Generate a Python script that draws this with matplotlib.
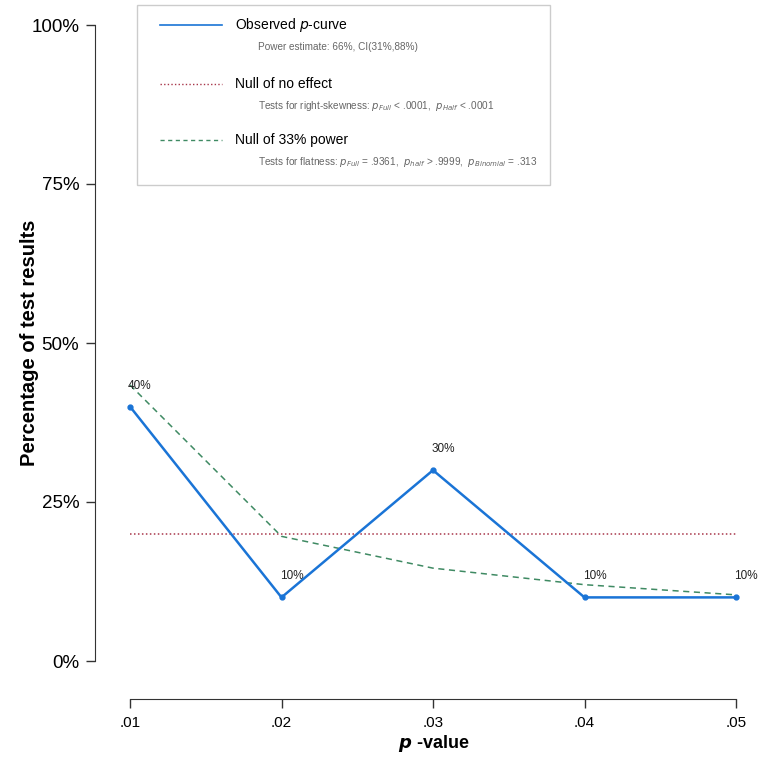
import matplotlib
matplotlib.use('Agg')
import matplotlib.pyplot as plt
from matplotlib.lines import Line2D
from matplotlib.patches import Rectangle

plt.rcParams['font.family'] = ['Liberation Sans', 'DejaVu Sans']

# data
p_values = [0.01, 0.02, 0.03, 0.04, 0.05]
x_labels = ['.01', '.02', '.03', '.04', '.05']
observed = [40, 10, 30, 10, 10]
null_effect = [20, 20, 20, 20, 20]
null_33 = [43.4, 19.6, 14.6, 12.0, 10.4]
y_ticks = [0, 25, 50, 75, 100]
y_labels = ['0%', '25%', '50%', '75%', '100%']

W, H = 765, 761
fig = plt.figure(figsize=(W / 100, H / 100), dpi=100)


def px(x, y):
    # pixel position -> figure fraction
    return x / W, 1 - y / H


l, b = px(130, 661)
r, t = px(736, 25)
ax = fig.add_axes([l, b, r - l, t - b])
ax.set_xlim(0.01, 0.05)
ax.set_ylim(0, 100)

blue = '#1a74d6'
red = '#a8364a'
green = '#3f8a63'

ax.plot(p_values, null_effect, color=red, lw=1.1, ls=(0, (1, 1.6)), clip_on=False)
ax.plot(p_values, null_33, color=green, lw=1.1, ls=(0, (4, 3)), clip_on=False)
ax.plot(p_values, observed, color=blue, lw=1.8, marker='o', ms=3.5, clip_on=False, zorder=5)

for xv, yv in zip(p_values, observed):
    ax.annotate('%d%%' % yv, (xv, yv), xytext=(10, 15), textcoords='offset pixels',
                ha='center', va='bottom', fontsize=8.5, color='#222222')

for s in ['top', 'right']:
    ax.spines[s].set_visible(False)
ax.spines['left'].set_position(('outward', 25))
ax.spines['bottom'].set_position(('outward', 27))
ax.spines['left'].set_color('#333333')
ax.spines['bottom'].set_color('#333333')
ax.set_xticks(p_values)
ax.set_xticklabels(x_labels)
ax.set_yticks(y_ticks)
ax.set_yticklabels(y_labels)
ax.tick_params(axis='both', length=6.5, width=1, color='#333333', labelsize=13.5, pad=5)
ax.tick_params(axis='x', labelsize=11, pad=6)

fig.text(*px(30, 343), 'Percentage of test results', rotation=90, ha='center', va='center',
         fontsize=14.5, fontweight='bold')
fig.text(*px(434, 743), r'$\boldsymbol{p}$ -value', ha='center', va='center',
         fontsize=13, fontweight='bold')

# legend box
lx0, ly0 = px(137, 185)
lx1, ly1 = px(550, 5)
fig.patches.append(Rectangle((lx0, ly0), lx1 - lx0, ly1 - ly0, transform=fig.transFigure,
                             fill=False, edgecolor='#cccccc', lw=1))

entries = [
    (25, blue, '-', 1.2, 'Observed $\\it{p}$-curve',
     'Power estimate: 66%, CI(31%,88%)'),
    (84, red, (0, (1, 1.6)), 1.0, 'Null of no effect',
     'Tests for right-skewness: $\\it{p}_{Full}$ < .0001,  $\\it{p}_{Half}$ < .0001'),
    (140, green, (0, (3, 2.5)), 1.0, 'Null of 33% power',
     'Tests for flatness: $\\it{p}_{Full}$ = .9361,  $\\it{p}_{half}$ > .9999,  $\\it{p}_{Binomial}$ = .313'),
]
for yy, col, ls, lw, main, sub in entries:
    xa, ya = px(160, yy)
    xb, _ = px(222, yy)
    fig.lines.append(Line2D([xa, xb], [ya, ya], transform=fig.transFigure,
                            color=col, ls=ls, lw=lw))
    fig.text(*px(235, yy), main, ha='left', va='center', fontsize=10)
    fig.text(*px(258, yy + 22), sub, ha='left', va='center', fontsize=7.2, color='#666666')

fig.savefig('out.png', dpi=100, facecolor='white')
